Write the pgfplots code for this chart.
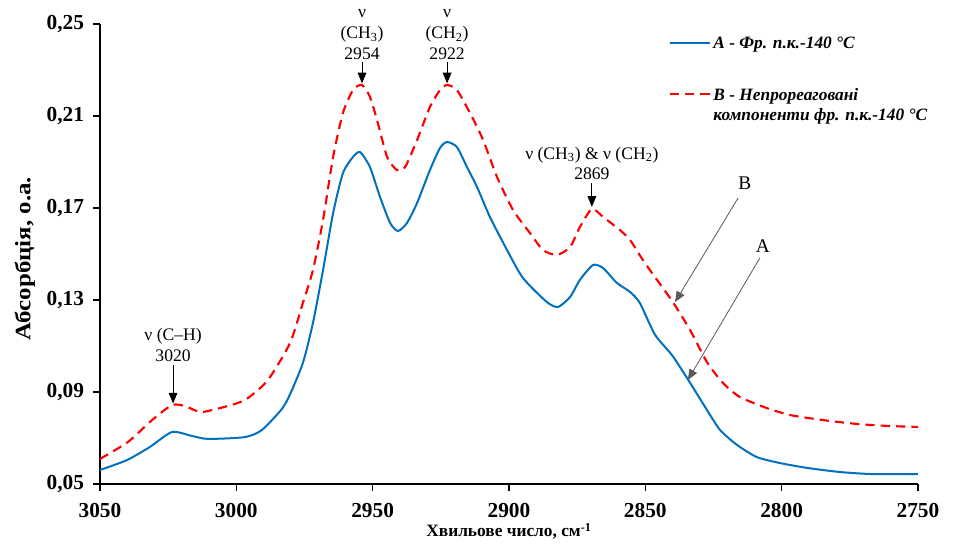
\documentclass[border=0pt]{standalone}
\usepackage{fontspec}
\setmainfont{Liberation Serif}
\newfontfamily\ylfont{Liberation Serif}[FakeStretch=1.13]
\usepackage{pgfplots}
\usepackage{pgfplotstable}
\pgfplotsset{compat=1.18}
\usetikzlibrary{arrows.meta}
\definecolor{bluA}{HTML}{0070C0}
\definecolor{redB}{HTML}{FF0000}

\pgfplotstableread{
x y
3050.0 0.0561
3040.1 0.0604
3031.7 0.0661
3023.6 0.0726
3016.3 0.0709
3010.4 0.0696
2996.8 0.0704
2990.6 0.0735
2983.3 0.0826
2980.3 0.0890
2975.6 0.1026
2971.9 0.1200
2968.2 0.1430
2964.5 0.1678
2960.9 0.1852
2957.2 0.1922
2954.6 0.1943
2951.0 0.1878
2947.3 0.1748
2943.6 0.1635
2940.7 0.1600
2937.4 0.1635
2933.7 0.1722
2929.0 0.1865
2925.3 0.1961
2922.7 0.1987
2919.1 0.1965
2915.4 0.1878
2911.7 0.1791
2907.0 0.1661
2900.7 0.1517
2894.9 0.1396
2886.1 0.1291
2882.0 0.1270
2877.6 0.1313
2874.0 0.1387
2869.2 0.1452
2865.5 0.1439
2860.4 0.1374
2855.6 0.1335
2852.0 0.1287
2846.5 0.1150
2840.2 0.1060
2834.7 0.0961
2827.4 0.0822
2822.6 0.0735
2816.4 0.0670
2809.1 0.0617
2800.6 0.0591
2790.7 0.0570
2778.6 0.0552
2766.5 0.0543
2750.0 0.0543
}\dataA

\pgfplotstableread{
x y
3050.0 0.0609
3039.7 0.0683
3030.9 0.0778
3023.6 0.0843
3018.8 0.0839
3012.6 0.0813
3000.5 0.0848
2995.7 0.0874
2988.4 0.0952
2980.3 0.1113
2975.6 0.1287
2971.9 0.1430
2968.2 0.1648
2964.5 0.1922
2960.9 0.2113
2957.2 0.2213
2953.9 0.2235
2951.0 0.2183
2948.4 0.2083
2944.7 0.1922
2941.1 0.1865
2938.1 0.1878
2933.7 0.1996
2929.0 0.2139
2925.3 0.2213
2922.7 0.2235
2919.1 0.2213
2914.3 0.2113
2909.5 0.1996
2904.4 0.1835
2898.5 0.1691
2892.3 0.1591
2887.5 0.1517
2882.4 0.1496
2877.6 0.1530
2874.0 0.1617
2869.6 0.1696
2865.5 0.1661
2859.3 0.1604
2855.6 0.1561
2850.9 0.1474
2845.7 0.1387
2839.9 0.1291
2833.6 0.1170
2827.4 0.1030
2821.5 0.0939
2815.3 0.0878
2805.4 0.0830
2797.0 0.0800
2784.9 0.0778
2772.4 0.0761
2760.3 0.0752
2750.0 0.0748
}\dataB

\begin{document}
\begin{tikzpicture}
\useasboundingbox (-75pt,-48.75pt) rectangle (642.75pt,363pt);
\begin{axis}[
  at={(0,0)}, anchor=south west,
  scale only axis, width=613.5pt, height=345pt,
  x dir=reverse,
  xmin=2750, xmax=3050, ymin=0.05, ymax=0.25,
  xtick={2750,2800,2850,2900,2950,3000,3050},
  ytick={0.05,0.09,0.13,0.17,0.21,0.25},
  axis x line*=bottom, axis y line*=left,
  axis line style={-, line width=0.8pt},
  tick style={line width=0.8pt, black},
  tick align=outside, major tick length=5pt,
  clip=false,
  /pgf/number format/assume math mode=true,
  xticklabel style={font=\fontsize{16}{16}\selectfont\bfseries, /pgf/number format/1000 sep={}, yshift=-6pt},
  yticklabel style={font=\fontsize{16}{16}\selectfont\bfseries, xshift=-3.5pt, /pgf/number format/.cd, use comma, fixed, fixed zerofill, precision=2},
  xlabel={Хвильове число, см\textsuperscript{-1}},
  ylabel={Абсорбція, о.а.},
  xlabel style={font=\fontsize{13}{13}\selectfont\bfseries, at={(axis description cs:0.5,-0.103)}, anchor=center},
  ylabel style={font=\ylfont\fontsize{16.5}{16.5}\selectfont\bfseries, at={(axis description cs:-0.092,0.49)}, anchor=center},
  legend style={draw=none, fill=none, at={(rel axis cs:0.69,0.985)}, anchor=north west,
    font=\fontsize{13}{15}\selectfont\bfseries\itshape, row sep=23pt,
    legend cell align=left},
  legend image code/.code={\draw[#1] (0pt,0pt) -- (30pt,0pt);},
]
\addplot[bluA, line width=1.5pt, smooth, tension=0.4] table[x=x,y=y] {\dataA};
\addlegendentry{A - Фр. п.к.-140 °C}
\addplot[redB, line width=1.6pt, dash pattern=on 7pt off 4.5pt, smooth, tension=0.4] table[x=x,y=y] {\dataB};
\addlegendentry{\begin{tabular}[t]{@{}l@{}}B - Непрореаговані\\[0pt]компоненти фр. п.к.-140 °C\end{tabular}}

\tikzset{ann/.style={font=\fontsize{13.2}{15.5}\selectfont, align=center, inner sep=1pt},
  arr/.style={-{Triangle[length=8pt,width=6.5pt]}, black, line width=0.6pt},
  arrg/.style={-{Triangle[length=8pt,width=6.5pt]}, black!65, line width=0.6pt}}
\node[ann, anchor=south] at (axis cs:3023.2,0.1025) {ν (C–H)\\3020};
\draw[arr] (axis cs:3023.2,0.1017) -- (axis cs:3023.2,0.0850);
\node[ann, anchor=south] at (axis cs:2953.9,0.2340) {ν\\(CH\textsubscript{3})\\2954};
\draw[arr] (axis cs:2953.9,0.2335) -- (axis cs:2953.9,0.2242);
\node[ann, anchor=south] at (axis cs:2922.7,0.2340) {ν\\(CH\textsubscript{2})\\2922};
\draw[arr] (axis cs:2922.7,0.2335) -- (axis cs:2922.7,0.2242);
\node[ann, anchor=south] at (axis cs:2869.6,0.1815) {ν (CH\textsubscript{3}) \& ν (CH\textsubscript{2})\\2869};
\draw[arr] (axis cs:2869.6,0.1809) -- (axis cs:2869.6,0.1705);
\node[font=\fontsize{14.5}{14.5}\selectfont] at (axis cs:2813.5,0.1809) {B};
\draw[arrg] (axis cs:2816.0,0.1743) -- (axis cs:2839.1,0.1291);
\node[font=\fontsize{14.5}{14.5}\selectfont] at (axis cs:2806.9,0.1535) {A};
\draw[arrg] (axis cs:2808.0,0.1483) -- (axis cs:2834.4,0.0952);
\end{axis}
\end{tikzpicture}
\end{document}
